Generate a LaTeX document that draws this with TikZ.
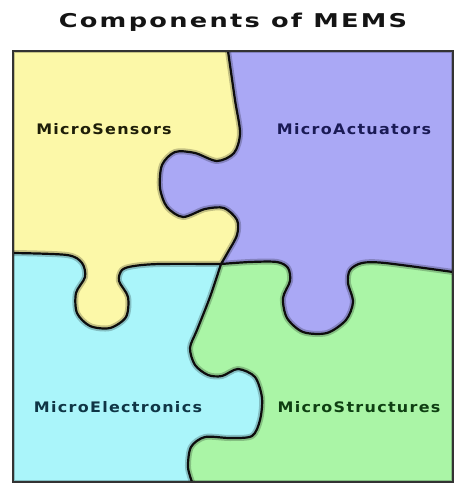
\documentclass[tikz,border=0pt]{standalone}
\usepackage{fontspec}
\setmainfont{DejaVu Sans}
\newfontfamily\headfont{DejaVu Sans}[FakeStretch=1.35,LetterSpace=12]
\newfontfamily\piecefont{DejaVu Sans}[FakeStretch=1.1,LetterSpace=9]
\usepackage{tikz}
\usetikzlibrary{calc}

\definecolor{sensfill}{HTML}{FCF8A8}
\definecolor{actfill}{HTML}{AAA8F5}
\definecolor{elecfill}{HTML}{AAF5FA}
\definecolor{structfill}{HTML}{AAF5A6}
\definecolor{senstext}{HTML}{1E1E08}
\definecolor{acttext}{HTML}{1A1A55}
\definecolor{electext}{HTML}{0F3545}
\definecolor{structtext}{HTML}{0F3F12}

% the four seams between the pieces
\newcommand\seamsensact{-- plot[smooth] coordinates {(221,264) (228,252) (237,235) (237,220) (224,208) (205,209) (183,217) (167,207) (160,188) (162,165) (175,152) (195,153) (217,161) (234,153) (240,133) (235,100) (228,51)}}
\newcommand\seamsenselec{-- plot[smooth] coordinates {(13,253) (67,255) (82,263) (85,277) (76,293) (77,313) (90,326) (110,328) (126,317) (128,297) (119,281) (122,270) (134,266) (160,264) (221,264)}}
\newcommand\seamactstruct{-- plot[smooth] coordinates {(221,264) (250,262) (277,262) (288,268) (290,281) (283,298) (287,318) (303,332) (327,333) (346,320) (353,302) (348,283) (350,270) (362,263) (385,263) (453,272)}}
\newcommand\seamelecstruct{-- plot[smooth] coordinates {(192,482) (188,467) (191,447) (205,437) (230,438) (252,436) (260,420) (262,398) (255,377) (238,369) (222,376) (208,375) (195,365) (190,348) (197,330) (210,297) (221,264)}}

\begin{document}
\begin{tikzpicture}[x=1pt,y=-1pt,
  halo/.style={line width=6pt,draw=black,opacity=0.22,line join=round},
  seam/.style={line width=2.2pt,draw=black!95,line join=round},
  piecename/.style={font=\piecefont\bfseries\fontsize{14.5}{16}\selectfont,anchor=base}]
\useasboundingbox (0,0) rectangle (455,484);

% pieces
\fill[elecfill] (13,51) rectangle (453,482);
\fill[actfill] (13,51) -- (13,253) \seamsenselec \seamactstruct -- (453,51) -- cycle;
\fill[sensfill] (13,51) -- (13,253) \seamsenselec \seamsensact -- cycle;
\fill[structfill] (453,482) -- (192,482) \seamelecstruct \seamactstruct -- cycle;

% seams with soft shadow
\begin{scope}
\clip (13,51) rectangle (453,482);
\draw[halo] (13,253) \seamsenselec \seamactstruct (192,482) \seamelecstruct \seamsensact;
\draw[halo,line width=4pt] (13,51) rectangle (453,482);
\draw[seam] (13,253) \seamsenselec \seamactstruct (192,482) \seamelecstruct \seamsensact;
\end{scope}
\draw[line width=1.2pt,black!80] (13,51) rectangle (453,482);

% labels
\node[font=\headfont\bfseries\fontsize{19}{21}\selectfont,anchor=base,text=black!92] (title) at (233,28) {Components of MEMS};
\node[piecename,text=senstext] (sensors) at (104,135) {MicroSensors};
\node[piecename,text=acttext] (actuators) at (354,134) {MicroActuators};
\node[piecename,text=electext] (electronics) at (118,412) {MicroElectronics};
\node[piecename,text=structtext] (structures) at (359,412) {MicroStructures};
\end{tikzpicture}
\end{document}
